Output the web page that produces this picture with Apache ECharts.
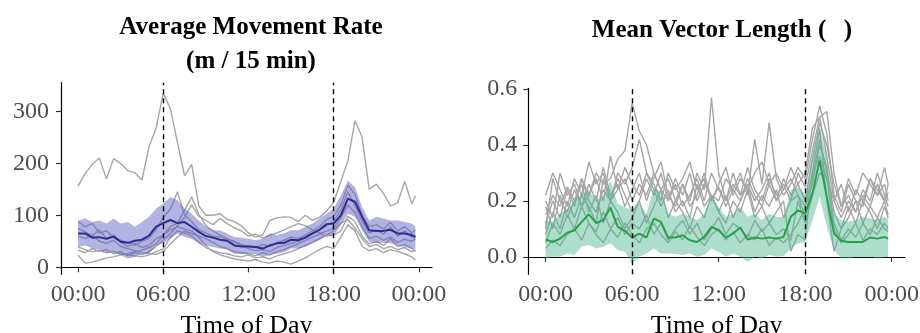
<!DOCTYPE html>
<html>
<head>
<meta charset="utf-8">
<script src="https://cdn.jsdelivr.net/npm/echarts@6/dist/echarts.min.js"></script>
<style>
  html, body { margin: 0; padding: 0; background: #fff; }
  #chart { width: 920px; height: 333px; }
</style>
</head>
<body>
<div id="chart"></div>
<script>
// hours of day, 30 min steps
const times = [0, 0.5, 1, 1.5, 2, 2.5, 3, 3.5, 4, 4.5, 5, 5.5, 6, 6.5, 7, 7.5, 8, 8.5, 9, 9.5,
  10, 10.5, 11, 11.5, 12, 12.5, 13, 13.5, 14, 14.5, 15, 15.5, 16, 16.5, 17, 17.5, 18, 18.5, 19, 19.5,
  20, 20.5, 21, 21.5, 22, 22.5, 23, 23.5, 23.75];
const hourTicks = [0, 6, 12, 18, 24];
const hourLabels = ['00:00', '06:00', '12:00', '18:00', '00:00'];
const rateTicks = [0, 100, 200, 300];
const mvlTicks = [0, 0.2, 0.4, 0.6];
const dawnDusk = [6, 18];

// movement rate (m / 15 min)
const rateMean = [65, 65, 57, 58, 55, 59, 49, 47, 51, 53, 61, 78, 85, 91, 85, 87, 78, 68, 60, 57,
  53, 51, 42, 40, 40, 39, 36, 42, 46, 47, 53, 52, 57, 65, 72, 83, 84, 100, 132, 126,
  97, 71, 70, 70, 72, 65, 65, 62, 58];
const rateLow = [39, 42, 36, 33, 29, 29, 23, 17, 20, 26, 26, 42, 46, 55, 65, 58, 55, 46, 42, 39,
  36, 34, 26, 25, 26, 25, 20, 23, 26, 29, 36, 36, 39, 46, 52, 61, 61, 81, 103, 97,
  71, 49, 46, 47, 46, 42, 39, 36, 33];
const rateHigh = [90, 94, 87, 90, 84, 94, 84, 87, 78, 87, 97, 113, 122, 135, 129, 113, 103, 90, 78, 71,
  71, 65, 58, 57, 55, 52, 55, 65, 62, 65, 71, 71, 78, 84, 94, 103, 113, 138, 167, 154,
  116, 90, 97, 94, 90, 90, 87, 84, 78];
const rateInd = [
  [156, 180, 198, 210, 170, 209, 200, 186, 182, 168, 232, 268, 335, 305, 240, 176, 198, 118, 100, 100,
    103, 92, 88, 80, 66, 58, 62, 90, 95, 97, 96, 88, 100, 90, 96, 108, 125, 165, 205, 282,
    250, 150, 160, 142, 118, 124, 165, 122, 138],
  [88, 78, 84, 66, 70, 58, 52, 48, 42, 50, 56, 72, 96, 112, 145, 100, 88, 72, 66, 60,
    58, 54, 50, 44, 40, 38, 44, 40, 48, 52, 58, 55, 62, 70, 78, 92, 98, 120, 158, 140,
    100, 78, 82, 74, 86, 70, 78, 66, 72],
  [75, 68, 60, 72, 55, 62, 48, 40, 46, 38, 42, 55, 62, 78, 85, 110, 135, 102, 80, 70,
    62, 55, 48, 42, 36, 32, 34, 30, 38, 42, 46, 50, 58, 64, 72, 80, 88, 110, 145, 118,
    88, 66, 72, 64, 78, 60, 70, 58, 62],
  [39, 34, 30, 32, 28, 30, 26, 24, 22, 20, 24, 30, 35, 58, 70, 66, 60, 48, 38, 32,
    28, 26, 22, 20, 24, 18, 20, 16, 22, 26, 30, 36, 42, 48, 55, 62, 70, 85, 92, 75,
    55, 40, 44, 36, 40, 34, 38, 30, 33],
  [33, 28, 36, 30, 34, 26, 30, 22, 28, 24, 30, 40, 52, 65, 80, 96, 120, 98, 90, 82,
    94, 84, 76, 70, 60, 64, 56, 62, 66, 72, 78, 84, 80, 72, 66, 60, 62, 70, 98, 88,
    60, 45, 50, 42, 55, 40, 44, 36, 30],
  [23, 8, 10, 14, 18, 20, 24, 26, 30, 33, 38, 45, 62, 72, 78, 74, 70, 58, 42, 30,
    24, 20, 16, 14, 12, 15, 10, 8, 12, 10, 6, 12, 18, 26, 34, 40, 36, 58, 82, 70,
    40, 32, 36, 28, 34, 30, 26, 20, 14],
  [60, 55, 62, 50, 46, 52, 40, 36, 32, 28, 26, 25, 30, 45, 58, 70, 65, 60, 55, 48,
    40, 36, 30, 28, 26, 22, 28, 24, 30, 34, 40, 45, 52, 58, 64, 70, 75, 95, 120, 105,
    78, 55, 60, 52, 58, 48, 54, 50, 55]
];

// mean vector length
const mvlMean = [0.062, 0.053, 0.065, 0.086, 0.095, 0.125, 0.152, 0.121, 0.131, 0.176, 0.107, 0.093, 0.069, 0.083, 0.069, 0.137, 0.125, 0.069, 0.069, 0.077,
  0.059, 0.053, 0.071, 0.107, 0.095, 0.069, 0.083, 0.105, 0.062, 0.069, 0.065, 0.069, 0.065, 0.071, 0.143, 0.166, 0.155, 0.226, 0.345, 0.214,
  0.083, 0.057, 0.053, 0.053, 0.053, 0.069, 0.065, 0.071, 0.065];
const mvlLow = [-0.006, 0, 0, 0.012, 0.006, 0.036, 0.042, 0.03, 0.036, 0.048, 0.024, 0.018, -0.024, 0, 0.012, 0.03, 0.012, 0.012, 0.01, 0.006,
  0.012, 0, 0.006, 0.03, 0.018, 0, 0.012, 0, -0.018, 0, -0.006, 0.006, 0, 0.002, 0.03, 0.048, 0.053, 0.131, 0.214, 0.107,
  0.024, -0.006, -0.006, 0, -0.002, 0, -0.006, -0.002, 0];
const mvlHigh = [0.131, 0.125, 0.154, 0.172, 0.202, 0.226, 0.238, 0.202, 0.214, 0.273, 0.19, 0.178, 0.166, 0.19, 0.154, 0.249, 0.232, 0.154, 0.143, 0.154,
  0.143, 0.131, 0.154, 0.214, 0.178, 0.143, 0.154, 0.178, 0.143, 0.154, 0.131, 0.154, 0.143, 0.143, 0.238, 0.249, 0.226, 0.356, 0.463, 0.356,
  0.154, 0.131, 0.125, 0.131, 0.143, 0.137, 0.131, 0.143, 0.137];
const mvlInd = [
  [0.15, 0.22, 0.18, 0.25, 0.2, 0.28, 0.22, 0.3, 0.26, 0.28, 0.35, 0.38, 0.55, 0.45, 0.4, 0.3, 0.24, 0.28, 0.2, 0.26,
    0.18, 0.22, 0.3, 0.2, 0.25, 0.18, 0.24, 0.2, 0.28, 0.22, 0.18, 0.26, 0.2, 0.24, 0.28, 0.22, 0.18, 0.3, 0.36, 0.28,
    0.2, 0.14, 0.2, 0.16, 0.22, 0.18, 0.26, 0.2, 0.23],
  [0.1, 0.28, 0.2, 0.16, 0.24, 0.18, 0.26, 0.2, 0.32, 0.22, 0.26, 0.18, 0.24, 0.3, 0.2, 0.28, 0.34, 0.22, 0.18, 0.26,
    0.2, 0.3, 0.24, 0.57, 0.3, 0.2, 0.26, 0.22, 0.32, 0.24, 0.2, 0.28, 0.22, 0.26, 0.2, 0.3, 0.25, 0.38, 0.5, 0.52,
    0.3, 0.18, 0.22, 0.16, 0.24, 0.2, 0.3, 0.22, 0.18],
  [0.2, 0.14, 0.3, 0.22, 0.26, 0.18, 0.22, 0.28, 0.2, 0.36, 0.24, 0.28, 0.2, 0.26, 0.22, 0.3, 0.24, 0.2, 0.28, 0.22,
    0.3, 0.2, 0.26, 0.22, 0.2, 0.28, 0.24, 0.3, 0.22, 0.42, 0.26, 0.48, 0.28, 0.22, 0.26, 0.32, 0.28, 0.42, 0.54, 0.44,
    0.22, 0.16, 0.26, 0.2, 0.18, 0.28, 0.22, 0.26, 0.2],
  [0.05, 0.12, 0.08, 0.15, 0.1, 0.18, 0.12, 0.09, 0.16, 0.1, 0.14, 0.08, 0.12, 0.1, 0.15, 0.08, 0.12, 0.06, 0.1, 0.13,
    0.08, 0.12, 0.06, 0.1, 0.14, 0.08, 0.12, 0.1, 0.07, 0.13, 0.09, 0.12, 0.08, 0.1, 0.06, 0.2, 0.12, 0.22, 0.3, 0.28,
    0.1, 0.05, 0.08, 0.12, 0.06, 0.1, 0.08, 0.12, 0.1],
  [0.12, 0.2, 0.14, 0.24, 0.18, 0.28, 0.2, 0.16, 0.24, 0.2, 0.28, 0.22, 0.16, 0.2, 0.28, 0.22, 0.3, 0.2, 0.26, 0.18,
    0.22, 0.28, 0.2, 0.3, 0.24, 0.2, 0.3, 0.22, 0.26, 0.2, 0.24, 0.3, 0.2, 0.28, 0.22, 0.26, 0.3, 0.46, 0.5, 0.36,
    0.2, 0.26, 0.16, 0.24, 0.2, 0.28, 0.24, 0.2, 0.26],
  [0.03, 0.06, 0.04, 0.08, 0.1, 0.06, 0.12, 0.08, 0.05, 0.1, 0.07, 0.12, 0.08, 0.05, 0.1, 0.12, 0.08, 0.05, 0.09, 0.06,
    0.11, 0.07, 0.04, 0.08, 0.1, 0.06, 0.09, 0.05, 0.08, 0.06, 0.1, 0.04, 0.07, 0.05, 0.08, 0.12, 0.18, 0.26, 0.4, 0.32,
    0.12, 0.06, 0.1, 0.07, 0.12, 0.08, 0.14, 0.1, 0.09],
  [0.18, 0.1, 0.22, 0.14, 0.2, 0.26, 0.16, 0.22, 0.12, 0.2, 0.16, 0.1, 0.14, 0.2, 0.12, 0.18, 0.24, 0.14, 0.2, 0.16,
    0.1, 0.18, 0.14, 0.22, 0.16, 0.12, 0.2, 0.16, 0.24, 0.14, 0.18, 0.12, 0.16, 0.2, 0.02, 0.08, 0.06, 0.3, 0.46, 0.2,
    0.02, 0.1, 0.14, 0.2, 0.12, 0.18, 0.14, 0.2, 0.15],
  [0.22, 0.3, 0.24, 0.18, 0.28, 0.22, 0.34, 0.26, 0.3, 0.2, 0.24, 0.32, 0.26, 0.22, 0.3, 0.26, 0.2, 0.3, 0.24, 0.28,
    0.34, 0.24, 0.28, 0.2, 0.26, 0.32, 0.22, 0.28, 0.24, 0.3, 0.34, 0.26, 0.3, 0.24, 0.32, 0.26, 0.2, 0.35, 0.48, 0.4,
    0.26, 0.18, 0.28, 0.22, 0.3, 0.26, 0.22, 0.32, 0.26],
  [0.08, 0.16, 0.1, 0.2, 0.14, 0.22, 0.18, 0.12, 0.28, 0.2, 0.3, 0.26, 0.32, 0.42, 0.3, 0.24, 0.18, 0.24, 0.16, 0.2,
    0.14, 0.26, 0.18, 0.22, 0.16, 0.22, 0.14, 0.2, 0.26, 0.16, 0.22, 0.18, 0.24, 0.14, 0.2, 0.22, 0.14, 0.28, 0.42, 0.3,
    0.16, 0.1, 0.18, 0.12, 0.2, 0.16, 0.1, 0.18, 0.14]
];

const FONT = 'Liberation Serif';
const pairs = (vals) => times.map((t, i) => [t, vals[i]]);

const xAxisFor = (gi) => ({
  type: 'value', gridIndex: gi, min: -1.2, max: 24.92,
  name: 'Time of Day', nameLocation: 'middle', nameGap: 39,
  nameTextStyle: { fontFamily: FONT, fontSize: 26, color: '#000', lineHeight: 26 },
  axisLine: { show: true, lineStyle: { color: '#000', width: 1.2 } },
  axisTick: { show: true, length: 5, customValues: hourTicks, lineStyle: { color: '#333', width: 1.2 } },
  axisLabel: {
    customValues: hourTicks, margin: 8, fontFamily: FONT, fontSize: 24, color: '#4d4d4d', lineHeight: 24,
    formatter: (v) => hourLabels[hourTicks.indexOf(v)]
  },
  splitLine: { show: false }
});

const yAxisFor = (gi, min, max, ticks, margin, fmt) => ({
  type: 'value', gridIndex: gi, min: min, max: max,
  axisLine: { show: true, onZero: false, lineStyle: { color: '#000', width: 1.2 } },
  axisTick: { show: true, length: 5, customValues: ticks, lineStyle: { color: '#333', width: 1.2 } },
  axisLabel: { customValues: ticks, margin: margin, fontFamily: FONT, fontSize: 24, color: '#4d4d4d', formatter: fmt },
  splitLine: { show: false }
});

const greyLines = (list, gi) => list.map((vals) => ({
  type: 'line', xAxisIndex: gi, yAxisIndex: gi, data: pairs(vals),
  showSymbol: false, silent: true, z: 2,
  lineStyle: { color: '#a6a6a6', width: 1.4 }
}));

const ribbon = (lo, hi, fill, gi) => ({
  type: 'custom', xAxisIndex: gi, yAxisIndex: gi, silent: true, clip: true, z: 3,
  data: [[0, 0]],
  renderItem: (params, api) => {
    const pts = times.map((t, i) => api.coord([t, hi[i]]));
    for (let i = times.length - 1; i >= 0; i--) pts.push(api.coord([times[i], lo[i]]));
    return { type: 'polygon', shape: { points: pts }, style: { fill: fill } };
  }
});

const meanLine = (vals, color, gi) => ({
  type: 'line', xAxisIndex: gi, yAxisIndex: gi, data: pairs(vals),
  showSymbol: false, silent: true, z: 4,
  lineStyle: { color: color, width: 2 },
  markLine: {
    silent: true, symbol: ['none', 'none'], label: { show: false },
    lineStyle: { color: '#000', type: [5, 4], width: 1.4 },
    data: dawnDusk.map((h) => ({ xAxis: h }))
  }
});

const chart = echarts.init(document.getElementById('chart'));
chart.setOption({
  animation: false,
  backgroundColor: '#fff',
  title: [
    {
      text: 'Average Movement Rate\n(m / 15 min)', left: 246, top: 6, textAlign: 'center',
      textStyle: { fontFamily: FONT, fontSize: 25, fontWeight: 'bold', color: '#000', lineHeight: 34 }
    },
    {
      text: 'Mean Vector Length (\u2002\u2009)', left: 717, top: 9, textAlign: 'center',
      textStyle: { fontFamily: FONT, fontSize: 25, fontWeight: 'bold', color: '#000', lineHeight: 34 }
    }
  ],
  grid: [
    { left: 61, right: 488, top: 82.7, bottom: 58.7, outerBoundsMode: 'none', containLabel: false },
    { left: 528.3, right: 15, top: 88.3, bottom: 58.7, outerBoundsMode: 'none', containLabel: false }
  ],
  xAxis: [xAxisFor(0), xAxisFor(1)],
  yAxis: [
    yAxisFor(0, -13.5, 355, rateTicks, 12, (v) => String(v)),
    yAxisFor(1, -0.0627, 0.603, mvlTicks, 11, (v) => v.toFixed(1))
  ],
  series: [
    ...greyLines(rateInd, 0),
    ribbon(rateLow, rateHigh, 'rgba(92, 88, 192, 0.46)', 0),
    meanLine(rateMean, '#2e2a96', 0),
    ...greyLines(mvlInd, 1),
    ribbon(mvlLow, mvlHigh, 'rgba(70, 182, 140, 0.45)', 1),
    meanLine(mvlMean, '#27a24c', 1)
  ]
});
</script>
</body>
</html>
